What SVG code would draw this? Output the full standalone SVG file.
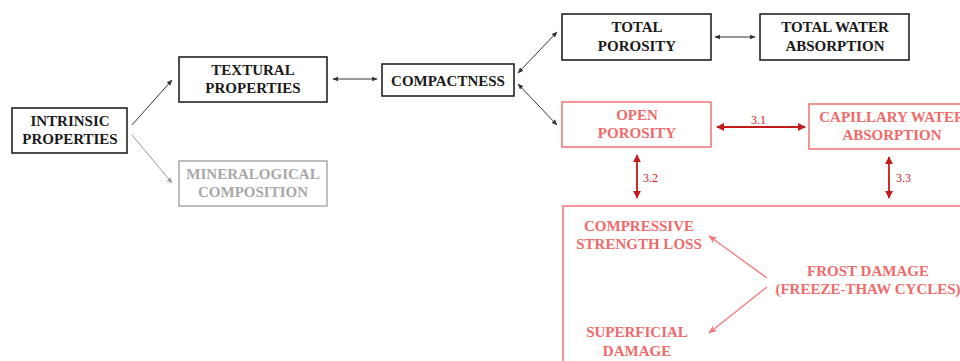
<svg xmlns="http://www.w3.org/2000/svg" width="960" height="361" viewBox="0 0 960 361">
<defs>
<style>
text{font-family:"Liberation Serif","Times New Roman",serif;font-weight:bold;font-size:15px;text-anchor:middle}
.k rect{fill:#fff;stroke:#222;stroke-width:1.6}
.k text{fill:#1a1a1a}
.g rect{fill:#fff;stroke:#b0b0b0;stroke-width:1.6}
.g text{fill:#a8a8a8}
.r rect{fill:#fff;stroke:#f27a7a;stroke-width:1.6}
.r text{fill:#f06a6a}
#frost-box rect{fill:none}
.lbl{font-weight:normal;font-size:12px;fill:#c41a1a;text-anchor:start}
.ck{stroke:#333;stroke-width:1;fill:none}
.cg{stroke:#999;stroke-width:1;fill:none}
.cd{stroke:#c41a1a;stroke-width:1.8;fill:none}
.cs{stroke:#f27a7a;stroke-width:1.3;fill:none}
</style>
<marker id="ak" viewBox="0 0 10 10" refX="9" refY="5" markerWidth="6" markerHeight="6" orient="auto-start-reverse" markerUnits="userSpaceOnUse"><path d="M0,1 L10,5 L0,9 Z" fill="#333"/></marker>
<marker id="ag" viewBox="0 0 10 10" refX="9" refY="5" markerWidth="6" markerHeight="6" orient="auto-start-reverse" markerUnits="userSpaceOnUse"><path d="M0,1 L10,5 L0,9 Z" fill="#999"/></marker>
<marker id="ad" viewBox="0 0 10 10" refX="9" refY="5" markerWidth="8" markerHeight="8" orient="auto-start-reverse" markerUnits="userSpaceOnUse"><path d="M0,0 L10,5 L0,10 Z" fill="#c41a1a"/></marker>
<marker id="as" viewBox="0 0 10 10" refX="9" refY="5" markerWidth="9" markerHeight="9" orient="auto-start-reverse" markerUnits="userSpaceOnUse"><path d="M0,1 L10,5 L0,9 L3,5 Z" fill="#f27a7a"/></marker>
</defs>
<rect width="960" height="361" fill="#fff"/>

<g id="intrinsic" class="k"><rect x="12" y="108" width="115" height="45"/><text x="70" y="126">INTRINSIC</text><text x="70" y="144">PROPERTIES</text></g>
<g id="textural" class="k"><rect x="179" y="57" width="148" height="45"/><text x="253" y="75">TEXTURAL</text><text x="253" y="93">PROPERTIES</text></g>
<g id="mineralogical" class="g"><rect x="179" y="161" width="148" height="45"/><text x="253" y="179">MINERALOGICAL</text><text x="253" y="197">COMPOSITION</text></g>
<g id="compactness" class="k"><rect x="382" y="64" width="132" height="32"/><text x="448" y="86">COMPACTNESS</text></g>
<g id="total-porosity" class="k"><rect x="562" y="14" width="149" height="46"/><text x="637" y="32">TOTAL</text><text x="637" y="51">POROSITY</text></g>
<g id="total-water" class="k"><rect x="760" y="14" width="149" height="46"/><text x="835" y="32">TOTAL WATER</text><text x="835" y="51">ABSORPTION</text></g>
<g id="open-porosity" class="r"><rect x="562" y="102" width="149" height="45"/><text x="637" y="120">OPEN</text><text x="637" y="138">POROSITY</text></g>
<g id="capillary" class="r"><rect x="809" y="104" width="170" height="45"/><text x="892" y="122">CAPILLARY WATER</text><text x="892" y="140">ABSORPTION</text></g>
<g id="frost-box" class="r"><rect x="563" y="206" width="420" height="170"/>
<text x="639" y="231">COMPRESSIVE</text><text x="639" y="249">STRENGTH LOSS</text>
<text x="868" y="276">FROST DAMAGE</text><text x="868" y="294">(FREEZE-THAW CYCLES)</text>
<text x="637" y="337">SUPERFICIAL</text><text x="637" y="356">DAMAGE</text>
</g>

<g id="connectors">
<line class="ck" x1="132" y1="125" x2="172" y2="80" marker-end="url(#ak)"/>
<line class="cg" x1="132" y1="135" x2="172" y2="183" marker-end="url(#ag)"/>
<line class="ck" x1="333" y1="79" x2="377" y2="79" marker-start="url(#ak)" marker-end="url(#ak)"/>
<line class="ck" x1="518" y1="73" x2="557" y2="32" marker-start="url(#ak)" marker-end="url(#ak)"/>
<line class="ck" x1="518" y1="84" x2="557" y2="125" marker-start="url(#ak)" marker-end="url(#ak)"/>
<line class="ck" x1="715" y1="37" x2="755" y2="37" marker-start="url(#ak)" marker-end="url(#ak)"/>
<line class="cd" x1="717" y1="127" x2="805" y2="127" marker-start="url(#ad)" marker-end="url(#ad)"/>
<line class="cd" x1="637" y1="155" x2="637" y2="198" marker-start="url(#ad)" marker-end="url(#ad)"/>
<line class="cd" x1="889" y1="157" x2="889" y2="198" marker-start="url(#ad)" marker-end="url(#ad)"/>
<line class="cs" x1="767" y1="278" x2="709" y2="236" marker-end="url(#as)"/>
<line class="cs" x1="767" y1="287" x2="709" y2="333" marker-end="url(#as)"/>
<text class="lbl" x="751" y="124">3.1</text>
<text class="lbl" x="643" y="182">3.2</text>
<text class="lbl" x="896" y="182">3.3</text>
</g>
</svg>
